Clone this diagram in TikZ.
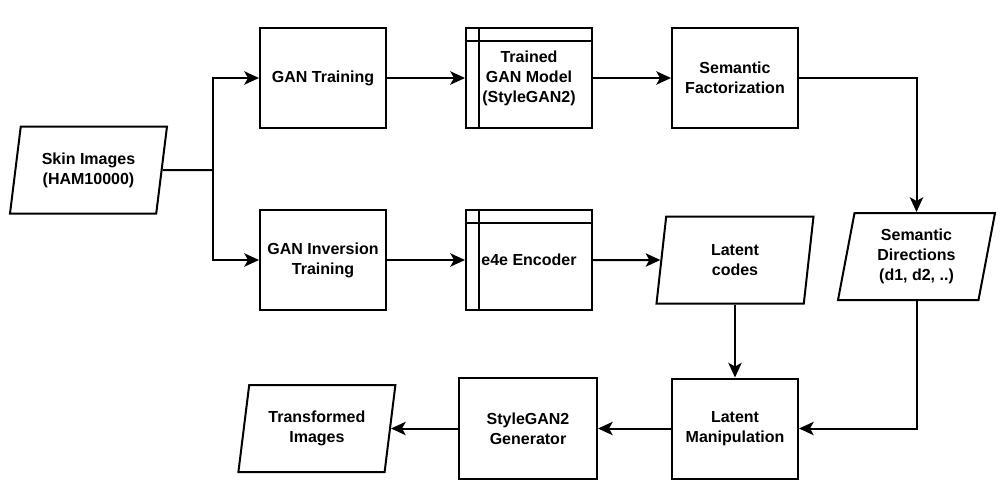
\documentclass[tikz,border=0pt]{standalone}
\usepackage{fontspec}
\setmainfont{Liberation Sans}
\usetikzlibrary{positioning, arrows.meta, calc, shapes.geometric}
\definecolor{bgBox}{HTML}{FFFFFF}
\definecolor{borderMain}{HTML}{000000}
\definecolor{arrowColor}{HTML}{000000}
\definecolor{textMain}{HTML}{000000}
\tikzset{
  stage/.style={
    draw=borderMain, fill=bgBox,
    minimum width=94.5pt, minimum height=75pt,
    font=\bfseries\fontsize{12}{15}\selectfont, text=textMain, line width=1.5pt, align=center,
  },
  storage/.style={
    stage,
    path picture={
      \draw[line width=1.5pt, borderMain]
        ([xshift=9.4pt]path picture bounding box.north west) -- ([xshift=9.4pt]path picture bounding box.south west)
        ([yshift=-10pt]path picture bounding box.north west) -- ([yshift=-10pt]path picture bounding box.north east);
    },
  },
  dataio/.style={
    trapezium, trapezium left angle=74, trapezium right angle=106, trapezium stretches body,
    draw=borderMain, fill=bgBox, inner sep=1pt,
    minimum width=117.75pt, minimum height=65.25pt,
    font=\bfseries\fontsize{12}{15}\selectfont, text=textMain, line width=1.5pt, align=center,
  },
  stdarrow/.style={
    -{Stealth[length=11pt, width=10pt, inset=2.75pt]}, line width=1.5pt, color=arrowColor,
  },
  plainline/.style={
    line width=1.5pt, color=arrowColor,
  },
}

\begin{document}
\begin{tikzpicture}[x=0.75pt, y=-0.75pt]

  % === Canvas ===
  \fill[white] (0,0) rectangle (1000,496);
  \useasboundingbox (0,0) rectangle (1000,496);

  % === Input ===
  \node[dataio] (skin) at (88.5,170) {Skin Images\\(HAM10000)};

  % === GAN branch (top row) ===
  \node[stage] (ganTrain) at (323,78) {GAN Training};
  \node[storage, right=58.5pt of ganTrain] (ganModel) {Trained\\GAN Model\\(StyleGAN2)};
  \node[stage, right=58.5pt of ganModel] (semFact) {Semantic\\Factorization};

  % === Inversion branch (middle row) ===
  \node[stage, below=60pt of ganTrain] (ganInv) {GAN Inversion\\Training};
  \node[storage, right=58.5pt of ganInv] (encoder) {e4e Encoder};
  \node[dataio] (latent) at (semFact |- encoder) {Latent\\codes};
  \node[dataio] (semDir) at (916.5,256.5) {Semantic\\Directions\\(d1, d2, ..)};

  % === Editing (bottom row) ===
  \node[stage, below=54.75pt of latent] (manip) {Latent\\Manipulation};
  \node[stage, left=54.75pt of manip, minimum width=103.5pt, minimum height=75.75pt] (generator) {StyleGAN2\\Generator};
  \node[dataio, left=50.25pt of generator] (output) {Transformed\\Images};

  % === Arrows: input split ===
  \coordinate (split) at (213,170);
  \draw[plainline] (skin.east) -- (split);
  \draw[stdarrow] (split) |- (ganTrain.west);
  \draw[stdarrow] (split) |- (ganInv.west);

  % === Arrows: rows ===
  \draw[stdarrow] (ganTrain) -- (ganModel);
  \draw[stdarrow] (ganModel) -- (semFact);
  \draw[stdarrow] (ganInv) -- (encoder);
  \draw[stdarrow] (encoder.east) -- (latent.west);

  % === Arrows: into manipulation and out ===
  \draw[stdarrow] (semFact.east) -| (semDir.north);
  \draw[stdarrow] (semDir.south) |- (manip.east);
  \draw[stdarrow] (latent.south) -- (manip.north);
  \draw[stdarrow] (manip) -- (generator);
  \draw[stdarrow] (generator.west) -- (output.east);

\end{tikzpicture}
\end{document}
